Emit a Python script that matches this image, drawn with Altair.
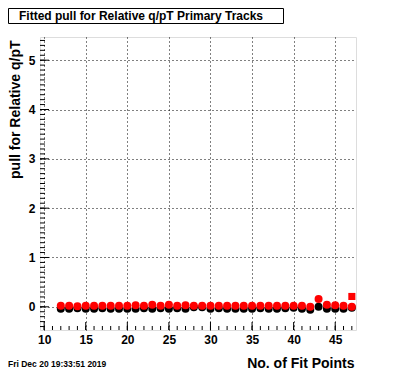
import altair as alt
import pandas as pd

# ---- data ----
x_points = list(range(12, 48))
black_pull = [-0.04, -0.04, -0.03, -0.04, -0.04, -0.03, -0.04, -0.04, -0.04, -0.04,
              -0.03, -0.04, -0.03, -0.04, -0.03, -0.04, -0.01, -0.01, -0.04, -0.03,
              -0.04, -0.04, -0.04, -0.04, -0.03, -0.04, -0.04, -0.03, -0.02, -0.04,
              -0.06, 0.00, -0.04, -0.04, -0.04, -0.02]
red_pull = [0.02, 0.02, 0.01, 0.02, 0.02, 0.02, 0.02, 0.02, 0.02, 0.03,
            0.02, 0.04, 0.02, 0.04, 0.02, 0.03, 0.02, 0.02, 0.02, 0.02,
            0.02, 0.02, 0.02, 0.02, 0.02, 0.02, 0.02, 0.02, 0.02, 0.02,
            0.00, 0.16, 0.04, 0.03, 0.02, 0.00]
square_x = [47]
square_pull = [0.21]

x_major = [10, 15, 20, 25, 30, 35, 40, 45]
x_minor = list(range(10, 48))
y_major = [0, 1, 2, 3, 4, 5]
y_minor = [round(-0.4 + 0.1 * i, 1) for i in range(59)]

title_text = "Fitted pull for Relative q/pT Primary Tracks"
date_text = "Fri Dec 20 19:33:51 2019"
x_title = "No. of Fit Points"
y_title = "pull for Relative q/pT"

W, H = 316, 293
FONT = "Liberation Sans"

xs = alt.Scale(domain=[9.5, 47.5], nice=False, zero=False)
ys = alt.Scale(domain=[-0.47, 5.47], nice=False, zero=False)

df = pd.DataFrame({"x": x_points, "black": black_pull, "red": red_pull})
sq = pd.DataFrame({"x": square_x, "y": square_pull})

x_axis = alt.Axis(values=x_major, grid=True, gridDash=[1, 3], gridColor="black",
                  gridOpacity=1, tickSize=0, domain=False, labelFont=FONT,
                  labelFontWeight="bold", labelFontSize=12, labelPadding=4,
                  labelColor="black", title=x_title,
                  titleX=W - 2, titleY=37, titleAlign="right",
                  titleBaseline="alphabetic",
                  titleFont=FONT, titleFontSize=14, titleFontWeight="bold",
                  titleColor="black")
y_axis = alt.Axis(values=y_major, grid=True, gridDash=[1, 3], gridColor="black",
                  gridOpacity=1, tickSize=0, domain=False, labelFont=FONT,
                  labelFontWeight="bold", labelFontSize=12, labelPadding=5,
                  labelColor="black", title=y_title,
                  titleX=-25, titleY=3, titleAlign="right", titleBaseline="middle",
                  titleAngle=270,
                  titleFont=FONT, titleFontSize=14, titleFontWeight="bold",
                  titleColor="black")

black = alt.Chart(df).mark_point(shape="circle", filled=True, color="black",
                                 size=64, opacity=1).encode(
    x=alt.X("x:Q", scale=xs, axis=x_axis),
    y=alt.Y("black:Q", scale=ys, axis=y_axis))
red = alt.Chart(df).mark_point(shape="circle", filled=True, color="#ff0000",
                               size=64, opacity=1).encode(
    x=alt.X("x:Q", scale=xs), y=alt.Y("red:Q", scale=ys))
square = alt.Chart(sq).mark_point(shape="square", filled=True, color="#ff0000",
                                  size=50, opacity=1).encode(
    x=alt.X("x:Q", scale=xs), y=alt.Y("y:Q", scale=ys))

xmaj = alt.Chart(pd.DataFrame({"v": x_major})).mark_rule(color="black").encode(
    x=alt.X("v:Q", scale=xs), y=alt.value(H), y2=alt.value(H - 8))
xmin = alt.Chart(pd.DataFrame({"v": x_minor})).mark_rule(color="black").encode(
    x=alt.X("v:Q", scale=xs), y=alt.value(H), y2=alt.value(H - 4))
ymaj = alt.Chart(pd.DataFrame({"v": y_major})).mark_rule(color="black").encode(
    y=alt.Y("v:Q", scale=ys), x=alt.value(0), x2=alt.value(9))
ymin = alt.Chart(pd.DataFrame({"v": y_minor})).mark_rule(color="black").encode(
    y=alt.Y("v:Q", scale=ys), x=alt.value(0), x2=alt.value(5))

box = alt.Chart(pd.DataFrame({"t": [title_text]})).mark_rect(
    fill="white", stroke="black", strokeWidth=1).encode(
    x=alt.value(-31.5), x2=alt.value(243.5), y=alt.value(-28.5), y2=alt.value(-13.5))
title = alt.Chart(pd.DataFrame({"t": [title_text]})).mark_text(
    font=FONT, fontSize=12, fontWeight="bold", color="black", align="center",
    baseline="middle").encode(text="t:N", x=alt.value(101), y=alt.value(-21))
date = alt.Chart(pd.DataFrame({"t": [date_text]})).mark_text(
    font=FONT, fontSize=8.5, fontWeight="bold", color="black", align="left",
    baseline="middle").encode(text="t:N", x=alt.value(-32), y=alt.value(H + 34))

chart = alt.layer(xmin, xmaj, ymin, ymaj, black, red, square, box, title, date).properties(
    width=W, height=H,
    padding={"left": 32, "top": 29, "right": 20, "bottom": 41},
    autosize=alt.AutoSizeParams(type="none"),
).configure_view(stroke="black", strokeWidth=1.5).configure(background="white")

chart.save("out.html", embed_options={"renderer": "svg", "actions": False})
